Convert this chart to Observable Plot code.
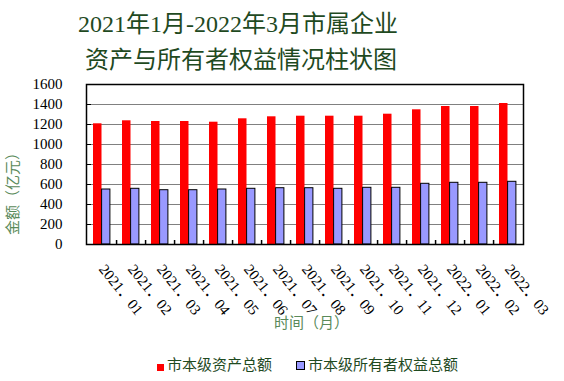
<!DOCTYPE html>
<html lang="zh-CN"><head><meta charset="utf-8">
<script src="https://cdn.jsdelivr.net/npm/d3@7"></script>
<script src="https://cdn.jsdelivr.net/npm/@observablehq/plot@0.6"></script>
<style>
body{margin:0;background:#fff;width:564px;height:381px;overflow:hidden;position:relative;font-family:"Liberation Serif","Times New Roman",serif;}
#title{position:relative;height:60px;color:#1f4a1f;font-size:24px;line-height:36px;}
#title div{position:absolute;white-space:nowrap;}
#legend{position:relative;height:31px;font-size:15px;color:#1f4a1f;}
#legend span{position:absolute;white-space:nowrap;}
.sw{width:7px;height:7px;display:inline-block;}
#ylab{position:absolute;left:13px;top:190px;transform:translate(-50%,-50%) rotate(-90deg);font-size:15px;color:#5a8a5a;white-space:nowrap;line-height:15px;}
</style></head>
<body>
<div id="title"><div style="left:78px;top:6px">2021年1月-2022年3月市属企业</div><div style="left:85px;top:42px">资产与所有者权益情况柱状图</div></div>
<div id="chart"></div>
<div id="legend">
<span style="left:157px;top:8px"><span class="sw" style="position:static;background:#ff0000"></span></span>
<span style="left:167px;top:3px">市本级资产总额</span>
<span style="left:296px;top:7px"><span class="sw" style="position:static;background:#9999ff;border:1px solid #000"></span></span>
<span style="left:308px;top:3px">市本级所有者权益总额</span>
</div>
<div id="ylab"></div>
<script>
const months = ["2021．01","2021．02","2021．03","2021．04","2021．05","2021．06","2021．07","2021．08","2021．09","2021．10","2021．11","2021．12","2022．01","2022．02","2022．03"];
const assets = [1207,1237,1230,1230,1223,1257,1277,1283,1283,1283,1303,1347,1380,1380,1410];
const equity = [550,557,543,543,550,557,563,563,557,567,567,607,617,617,627];
const yTicks = [0,200,400,600,800,1000,1200,1400,1600];
const yLabel = "金额（亿元）";
const xLabel = "时间（月）";

document.getElementById("ylab").textContent = yLabel;
const rows = months.map((m,i)=>({month:m, assets:assets[i], equity:equity[i]}));
const FONT = '"Liberation Serif","Times New Roman",serif';

const chart = Plot.plot({
  width: 564, height: 290,
  marginLeft: 86, marginRight: 41, marginTop: 24, marginBottom: 106,
  style: {fontFamily: FONT, fontSize: "15px", color: "#000", background: "#fff"},
  x: {domain: months, padding: 0, label: null},
  y: {domain: [0,1600], label: null},
  marks: [
    Plot.ruleY(yTicks.slice(1,-1), {y: d=>d, stroke: "#808080", strokeWidth: 1}),
    Plot.ruleY(yTicks.slice(1,-1), {y: d=>d, stroke: "#000", insetRight: 432}),
    Plot.barY(rows, {x: "month", y: "assets", fill: "#ff0000", insetLeft: 6, insetRight: 14.5}),
    Plot.barY(rows, {x: "month", y: "equity", fill: "#9999ff", stroke: "#000", strokeWidth: 1, insetLeft: 14.6, insetRight: 6.1}),
    Plot.ruleX(months.slice(0,-1), {x: d=>d, dx: 14.57, insetTop: 156, stroke: "#000", strokeWidth: 1.5}),
    Plot.frame({stroke: "#000", strokeWidth: 1.5}),
    Plot.axisY({ticks: yTicks, tickSize: 0, tickPadding: 24, tickFormat: d=>String(d), fontSize: 15, fontFamily: FONT}),
    Plot.axisX({tickSize: 0, tickRotate: 51, tickPadding: 22, fontSize: 15, fontFamily: FONT}),
    Plot.text([xLabel], {text: d=>d, frameAnchor: "bottom", dx: 6, dy: 83, fill: "#5a8a5a", fontSize: 15, fontFamily: FONT})
  ]
});
document.getElementById("chart").appendChild(chart);
</script>
</body></html>
